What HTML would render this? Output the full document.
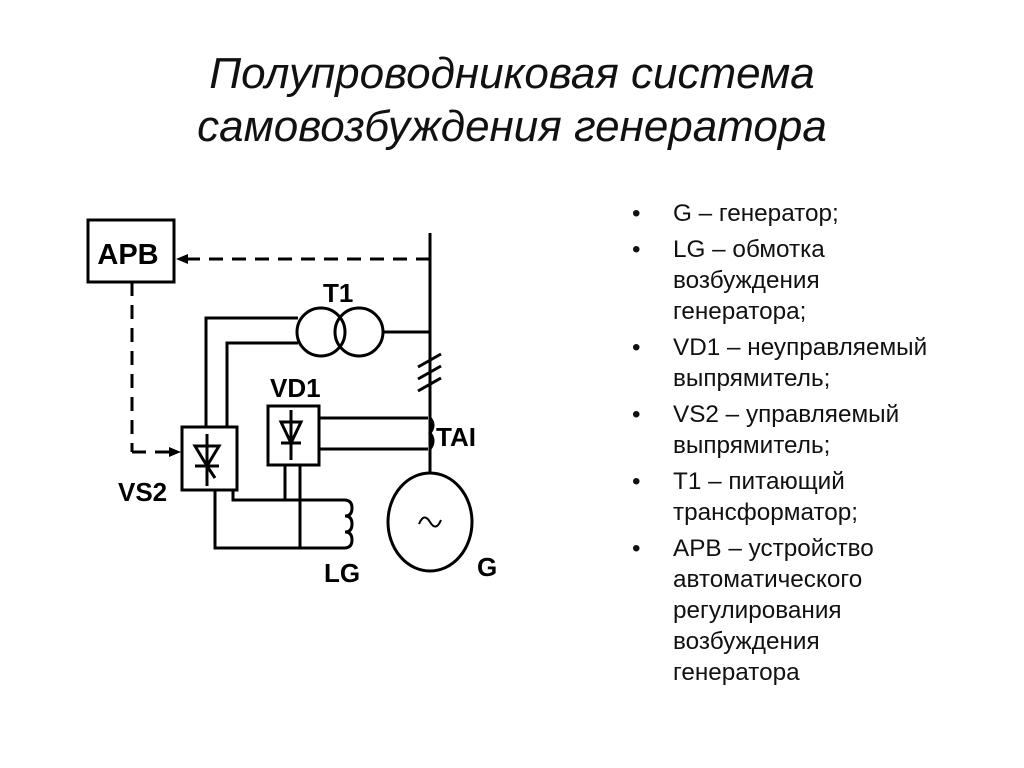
<!DOCTYPE html>
<html><head><meta charset="utf-8"><style>
html,body{margin:0;padding:0;background:#fff;}
body{width:1024px;height:768px;position:relative;overflow:hidden;font-family:"Liberation Sans",sans-serif;}
.t{position:absolute;left:0;width:1024px;text-align:center;font-style:italic;font-size:44px;color:#111;}
ul{position:absolute;left:632px;top:198px;margin:0;padding:0;list-style:none;font-size:24.3px;line-height:31px;color:#111;}
li{position:relative;padding-left:41px;margin-bottom:5px;}
li:before{content:"•";position:absolute;left:0;}
</style></head><body>
<div class="t" style="top:49px">Полупроводниковая система</div>
<div class="t" style="top:102px">самовозбуждения генератора</div>
<ul>
<li>G – генератор;</li>
<li>LG – обмотка<br>возбуждения<br>генератора;</li>
<li>VD1 – неуправляемый<br>выпрямитель;</li>
<li>VS2 – управляемый<br>выпрямитель;</li>
<li>T1 – питающий<br>трансформатор;</li>
<li>АРВ – устройство<br>автоматического<br>регулирования<br>возбуждения<br>генератора</li>
</ul>
<svg width="1024" height="768" style="position:absolute;left:0;top:0" fill="none" stroke="#000" stroke-width="3">
<rect x="88" y="220" width="86" height="62"/>
<text x="128" y="264" text-anchor="middle" font-family="Liberation Sans" font-weight="bold" font-size="29" fill="#000" stroke="none">АРВ</text>
<line x1="430" y1="233" x2="430" y2="474"/>
<line x1="430" y1="259" x2="186" y2="259" stroke-dasharray="14,9"/>
<polygon points="176,259 188,254 188,264" fill="#000" stroke="none"/>
<line x1="132" y1="282" x2="132" y2="452" stroke-dasharray="14,9"/>
<line x1="132" y1="452" x2="172" y2="452" stroke-dasharray="14,9"/>
<polygon points="181,452 169,447 169,457" fill="#000" stroke="none"/>
<circle cx="321" cy="332" r="24"/>
<circle cx="359" cy="332" r="24"/>
<line x1="383" y1="332" x2="430" y2="332"/>
<polyline points="298,318 206,318 206,427"/>
<polyline points="298,343 227,343 227,427"/>
<line x1="418" y1="367" x2="441" y2="354"/>
<line x1="418" y1="379" x2="441" y2="366"/>
<line x1="418" y1="391" x2="441" y2="378"/>
<rect x="182" y="427" width="55" height="63"/>
<line x1="207" y1="434" x2="207" y2="486"/>
<polygon points="195,446 219,446 207,466" fill="none"/>
<line x1="195" y1="466" x2="219" y2="466"/>
<line x1="207" y1="466" x2="215" y2="478"/>
<rect x="268" y="406" width="51" height="59"/>
<line x1="291" y1="410" x2="291" y2="460"/>
<polygon points="281,422 301,422 291,443" fill="none"/>
<line x1="281" y1="443" x2="301" y2="443"/>
<line x1="319" y1="418" x2="428" y2="418"/>
<line x1="319" y1="449" x2="428" y2="449"/>
<path d="M430,418 q6,7 0,15 q6,8 0,16"/>
<polyline points="233,490 233,500 345,500"/>
<polyline points="215,490 215,548 345,548"/>
<line x1="285" y1="465" x2="285" y2="500"/>
<line x1="300" y1="465" x2="300" y2="548"/>
<path d="M344,500 q8,0 8,8 q0,8 -7,8 q7,0 7,8 q0,8 -7,8 q7,0 7,8 q0,8 -8,8"/>
<ellipse cx="430" cy="522" rx="42" ry="49"/>
<path d="M419,524 q5,-12 11,-2 q6,10 11,-2" stroke-width="2"/>
<g font-family="Liberation Sans" font-weight="bold" font-size="26" fill="#000" stroke="none">
<text x="323" y="302">T1</text>
<text x="270" y="397">VD1</text>
<text x="118" y="501">VS2</text>
<text x="324" y="582">LG</text>
<text x="477" y="576">G</text>
<text x="436" y="446">TAI</text>
</g>
</svg>
</body></html>
